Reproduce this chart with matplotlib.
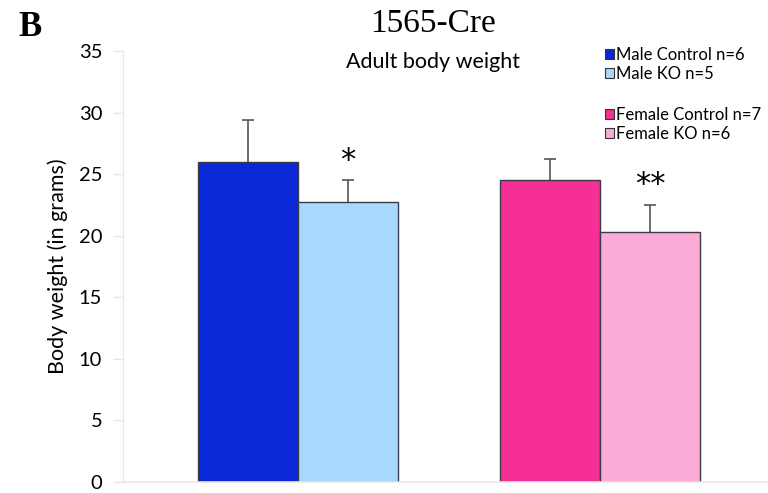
import matplotlib
matplotlib.use("Agg")
import matplotlib.pyplot as plt
from matplotlib.patches import Patch

# Data
groups = ["Male", "Female"]
series = ["Male Control n=6", "Male KO n=5", "Female Control n=7", "Female KO n=6"]
means = [26.0, 22.7, 24.5, 20.3]
errors = [3.4, 1.8, 1.75, 2.2]
stars = ["", "*", "", "**"]
colors = ["#0a28d8", "#a8d8fc", "#f52f96", "#fcabd6"]
yticks = [0, 5, 10, 15, 20, 25, 30, 35]

fig = plt.figure(figsize=(7.68, 4.93), dpi=100)
ax = fig.add_axes([123/768, 1 - 482/493, 1 - 123/768, (482 - 51)/493])

group_centers = [1.75, 4.77]
positions = [group_centers[0] - 0.5, group_centers[0] + 0.5,
             group_centers[1] - 0.5, group_centers[1] + 0.5]

bars = ax.bar(positions, means, width=1.0, color=colors,
              edgecolor="#3a3a48", linewidth=1.0, zorder=2)
tops = [m + e for m, e in zip(means, errors)]
ax.vlines(positions, means, tops, color="#555555", linewidth=1.2, zorder=1)
ax.plot(positions, tops, linestyle="none", marker="_", markersize=8,
        markeredgewidth=1.2, color="#555555", zorder=1)

for p, t, s in zip(positions, tops, stars):
    if s:
        ax.text(p, t + 0.45, s, ha="center", va="bottom", fontsize=22,
                family="DejaVu Sans")

ax.set_xlim(0, 6.45)
ax.set_ylim(0, 35)
ax.set_yticks(yticks)
ax.set_yticklabels([str(v) for v in yticks], fontsize=14.5, family="Lato")
ax.set_xticks([])
ax.tick_params(axis="y", length=7, color="#e6e6e6", width=1, pad=8)
for side in ["top", "right"]:
    ax.spines[side].set_visible(False)
ax.spines["left"].set_color("#e8e8e8")
ax.spines["bottom"].set_color("#e8e8e8")
ax.spines["bottom"].set_linewidth(1.2)
ax.set_ylabel("Body weight (in grams)", fontsize=15.5, family="Lato", labelpad=8)

fig.text(433/768, 1 - 24/493, "1565-Cre", ha="center", va="center",
         fontsize=24, family="Liberation Serif")
fig.text(433/768, 1 - 62/493, "Adult body weight", ha="center", va="center",
         fontsize=15.5, family="Lato")
fig.text(30/768, 1 - 27/493, "B", ha="center", va="center",
         fontsize=25, family="Liberation Serif", fontweight="bold")

handles = [Patch(facecolor=c, edgecolor="#333333", linewidth=0.8) for c in colors]
leg_kw = dict(frameon=False, handlelength=0.55, handleheight=0.55,
              handletextpad=0.12, labelspacing=0.2, borderpad=0,
              borderaxespad=0, loc="upper left",
              prop={"family": "Lato", "size": 12})
leg1 = fig.legend(handles[:2], series[:2],
                  bbox_to_anchor=(605/768, 1 - 47/493), **leg_kw)
leg2 = fig.legend(handles[2:], series[2:],
                  bbox_to_anchor=(605/768, 1 - 107/493), **leg_kw)

fig.savefig("out.png", dpi=100, facecolor="white")
